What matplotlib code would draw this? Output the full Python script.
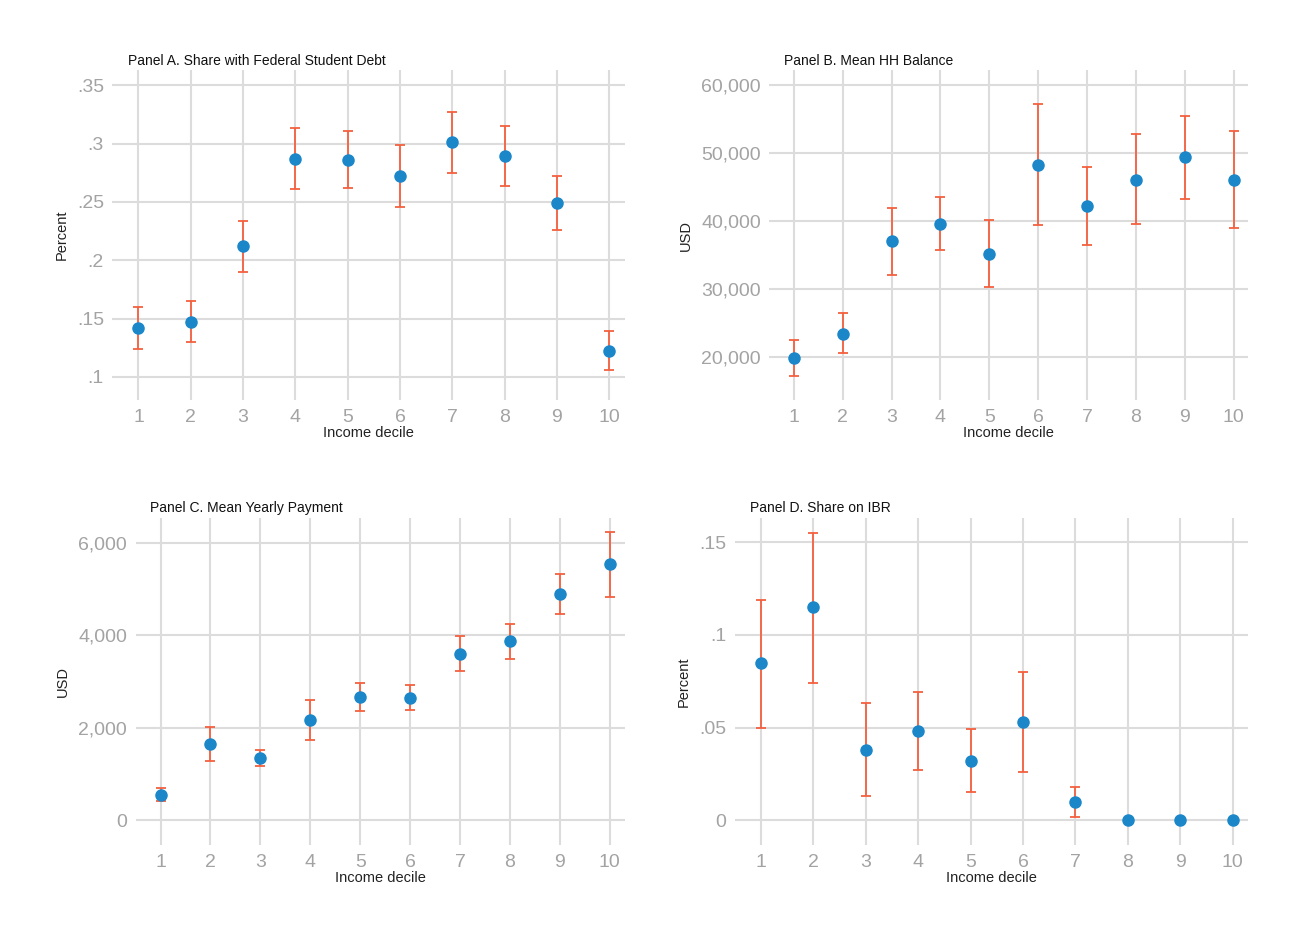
import matplotlib.pyplot as plt

plt.rcParams['font.family'] = ['Liberation Sans', 'DejaVu Sans']

deciles = [1, 2, 3, 4, 5, 6, 7, 8, 9, 10]

# Panel A - share with federal student debt
share_debt = [0.142, 0.147, 0.212, 0.287, 0.286, 0.272, 0.301, 0.289, 0.249, 0.122]
share_debt_lo = [0.124, 0.130, 0.190, 0.261, 0.262, 0.246, 0.275, 0.264, 0.226, 0.106]
share_debt_hi = [0.160, 0.165, 0.234, 0.313, 0.311, 0.299, 0.327, 0.315, 0.272, 0.139]

# Panel B - mean household balance
balance = [19800, 23400, 37000, 39600, 35200, 48300, 42200, 46100, 49400, 46100]
balance_lo = [17100, 20500, 32100, 35800, 30300, 39400, 36400, 39500, 43300, 39000]
balance_hi = [22400, 26500, 41900, 43500, 40100, 57300, 48000, 52800, 55500, 53300]

# Panel C - mean yearly payment
payment = [550, 1650, 1340, 2170, 2660, 2650, 3590, 3880, 4900, 5540]
payment_lo = [410, 1290, 1170, 1740, 2370, 2380, 3220, 3500, 4470, 4840]
payment_hi = [690, 2020, 1530, 2600, 2960, 2930, 3990, 4250, 5330, 6230]

# Panel D - share on IBR
share_ibr = [0.085, 0.115, 0.038, 0.048, 0.032, 0.053, 0.010, 0.0, 0.0, 0.0]
share_ibr_lo = [0.050, 0.074, 0.013, 0.027, 0.015, 0.026, 0.0015, 0.0, 0.0, 0.0]
share_ibr_hi = [0.119, 0.155, 0.063, 0.069, 0.049, 0.080, 0.018, 0.0, 0.0, 0.0]

ticks_a = [0.1, 0.15, 0.2, 0.25, 0.3, 0.35]
labels_a = ['.1', '.15', '.2', '.25', '.3', '.35']
ticks_b = [20000, 30000, 40000, 50000, 60000]
labels_b = ['20,000', '30,000', '40,000', '50,000', '60,000']
ticks_c = [0, 2000, 4000, 6000]
labels_c = ['0', '2,000', '4,000', '6,000']
ticks_d = [0, 0.05, 0.1, 0.15]
labels_d = ['0', '.05', '.1', '.15']

dot_color = '#1b87c9'
bar_color = '#f4603f'
grid_color = '#dcdcdc'
tick_color = '#a3a3a3'

fig = plt.figure(figsize=(12.91, 9.35), dpi=100)

panels = [
    ([0.087, 0.572, 0.397, 0.353], 'Panel A. Share with Federal Student Debt', 'Percent',
     share_debt, share_debt_lo, share_debt_hi, ticks_a, labels_a, (0.080, 0.363), 0.03),
    ([0.596, 0.572, 0.371, 0.353], 'Panel B. Mean HH Balance', 'USD',
     balance, balance_lo, balance_hi, ticks_b, labels_b, (13600, 62240), 0.03),
    ([0.105, 0.096, 0.379, 0.350], 'Panel C. Mean Yearly Payment', 'USD',
     payment, payment_lo, payment_hi, ticks_c, labels_c, (-540, 6540), 0.03),
    ([0.569, 0.096, 0.398, 0.350], 'Panel D. Share on IBR', 'Percent',
     share_ibr, share_ibr_lo, share_ibr_hi, ticks_d, labels_d, (-0.0135, 0.163), 0.03),
]

for rect, title, ylab, vals, lo, hi, yt, yl, ylim, tx in panels:
    ax = fig.add_axes(rect)
    err = [[v - l for v, l in zip(vals, lo)], [h - v for v, h in zip(vals, hi)]]
    ax.errorbar(deciles, vals, yerr=err, fmt='none', ecolor=bar_color,
                elinewidth=1.3, capsize=3.5, capthick=1.3, zorder=3)
    ax.plot(deciles, vals, 'o', color=dot_color, ms=8, zorder=4)
    ax.set_xlim(0.5, 10.3)
    ax.set_ylim(*ylim)
    ax.set_xticks(deciles)
    ax.set_yticks(yt)
    ax.set_yticklabels(yl)
    ax.tick_params(length=0, labelsize=14, labelcolor=tick_color, pad=6)
    ax.grid(True, color=grid_color, linewidth=1.5)
    ax.set_axisbelow(True)
    for s in ax.spines.values():
        s.set_visible(False)
    ax.set_xlabel('Income decile', fontsize=10.5, color='#222222', labelpad=0)
    ax.set_ylabel(ylab, fontsize=10.5, color='#222222', labelpad=6)
    ax.set_title(title, fontsize=10, color='#111111', loc='left', x=tx, pad=4)

fig.savefig('out.png', dpi=100, facecolor='white')
